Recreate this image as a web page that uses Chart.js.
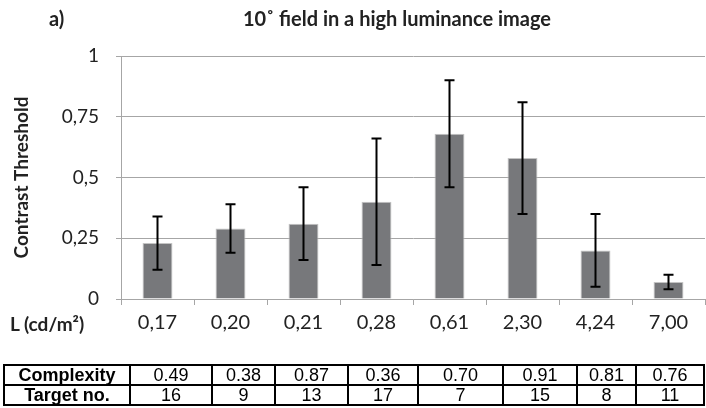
<!DOCTYPE html>
<html>
<head>
<meta charset="utf-8">
<script src="https://cdn.jsdelivr.net/npm/chart.js@4"></script>
<style>
  body { margin: 0; background: #fff; }
  .wrap { position: relative; width: 706px; height: 408px; }
  #myChart { position: absolute; left: 0; top: 0; }
  .txt { position: absolute; font-family: Lato, sans-serif; font-weight: bold; color: #222; white-space: nowrap; line-height: 1; }
  #title { left: 105px; width: 584px; top: 8px; text-align: center; font-size: 20px; }
  #part { left: 49px; top: 8px; font-size: 20px; }
  #lum { left: 10px; top: 314px; font-size: 19px; }
  table { position: absolute; left: 3px; top: 364px; border-collapse: collapse; font-family: "Liberation Sans", Arial, sans-serif; font-size: 18px; color: #000; }
  td { border: 2px solid #000; text-align: center; padding: 0; height: 18px; line-height: 18px; }
  td.head { font-weight: bold; }
</style>
</head>
<body>
<div class="wrap">
  <canvas id="myChart" width="706" height="408"></canvas>
  <div class="txt" id="part">a)</div>
  <div class="txt" id="title">10˚ field in a high luminance image</div>
  <div class="txt" id="lum">L (cd/m²)</div>
  <table id="info"></table>
</div>
<script>
const luminance = ['0,17', '0,20', '0,21', '0,28', '0,61', '2,30', '4,24', '7,00'];
const threshold = [0.23, 0.29, 0.31, 0.40, 0.68, 0.58, 0.20, 0.07];
const errHigh = [0.34, 0.39, 0.46, 0.66, 0.90, 0.81, 0.35, 0.10];
const errLow = [0.12, 0.19, 0.16, 0.14, 0.46, 0.35, 0.05, 0.04];
const complexity = ['0.49', '0.38', '0.87', '0.36', '0.70', '0.91', '0.81', '0.76'];
const targetNo = ['16', '9', '13', '17', '7', '15', '8', '11'];
const colWidths = [126, 82, 63, 73, 70, 85, 74, 59, 68];

// table under the chart
const info = document.getElementById('info');
[['Complexity', complexity], ['Target no.', targetNo]].forEach(function (row) {
  let tr = document.createElement('tr');
  let th = document.createElement('td');
  th.className = 'head';
  th.textContent = row[0];
  tr.appendChild(th);
  row[1].forEach(function (v) {
    let td = document.createElement('td');
    td.textContent = v;
    tr.appendChild(td);
  });
  info.appendChild(tr);
});
info.querySelectorAll('tr:first-child td').forEach(function (td, i) {
  td.style.width = (colWidths[i] - 2) + 'px';
});

const errorBars = {
  id: 'errorBars',
  afterDatasetsDraw(chart) {
    const c = chart.ctx;
    const y = chart.scales.y;
    c.save();
    c.strokeStyle = '#000';
    c.lineWidth = 2;
    chart.getDatasetMeta(0).data.forEach(function (bar, i) {
      const top = y.getPixelForValue(errHigh[i]);
      const bot = y.getPixelForValue(errLow[i]);
      c.beginPath();
      c.moveTo(bar.x, top); c.lineTo(bar.x, bot);
      c.moveTo(bar.x - 5, top); c.lineTo(bar.x + 5, top);
      c.moveTo(bar.x - 5, bot); c.lineTo(bar.x + 5, bot);
      c.stroke();
    });
    c.restore();
  }
};

const ctx = document.getElementById('myChart');
new Chart(ctx, {
  type: 'bar',
  data: {
    labels: luminance,
    datasets: [{
      data: threshold,
      backgroundColor: '#77787b',
      borderColor: '#c4c4c4',
      borderWidth: 1,
      barPercentage: 0.41,
      categoryPercentage: 1
    }]
  },
  plugins: [errorBars],
  options: {
    responsive: false,
    animation: false,
    layout: { padding: { top: 56, right: 1, bottom: 49, left: 0 } },
    plugins: {
      legend: { display: false },
      tooltip: { enabled: false }
    },
    scales: {
      y: {
        min: 0,
        max: 1,
        afterFit: function (scale) { scale.width = 121; },
        ticks: {
          stepSize: 0.25,
          padding: 17,
          color: '#222',
          font: { family: 'Lato', size: 19 },
          callback: function (v) { return String(v).replace('.', ','); }
        },
        grid: { color: '#a6a6a6', tickLength: 5 },
        border: { color: '#a6a6a6' },
        title: {
          display: true,
          text: 'Contrast Threshold',
          color: '#222',
          font: { family: 'Lato', size: 19, weight: 'bold' },
          padding: { top: 10, bottom: 0 }
        }
      },
      x: {
        afterFit: function (scale) { scale.height = 60; },
        ticks: {
          padding: 6,
          color: '#222',
          font: { family: 'Lato', size: 20 }
        },
        grid: { drawOnChartArea: false, color: '#a6a6a6', tickLength: 6, offset: true },
        border: { color: '#a6a6a6' }
      }
    }
  }
});
</script>
</body>
</html>
